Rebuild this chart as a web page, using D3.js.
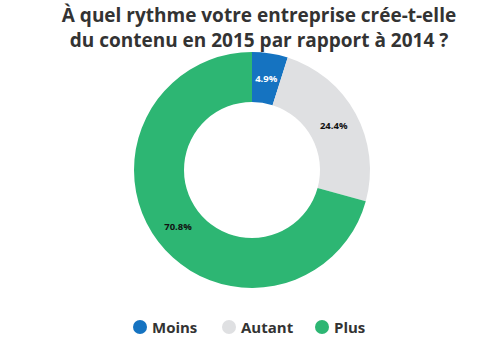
<!DOCTYPE html>
<meta charset="utf-8">
<html>
<head>
  <script src="https://d3js.org/d3.v7.min.js" charset="utf-8"></script>
</head>
<style>
body { margin: 0; background: white; }
* { font-family: "Open Sans", sans-serif; }
.title { text-anchor: middle; font-size: 19px; font-weight: bold; fill: #333; }
.label { text-anchor: middle; font-size: 9.5px; font-weight: bold; }
.legend text { font-size: 15px; font-weight: bold; fill: #333; }
</style>
<body>
<div id="container"></div>
<script>
var categories = ["Moins", "Autant", "Plus"]
var values = [4.9, 24.4, 70.8]
var colors = ["#1573c1", "#dfe0e2", "#2db673"]
var labelColors = ["white", "#111", "#111"]

var width = 502, height = 362
var cx = 252, cy = 170
var outerR = 118, innerR = 68

var svg = d3.select("#container").append("svg")
            .attr("width", width)
            .attr("height", height)

svg.append("text").attr("class", "title").attr("x", 259).attr("y", 22)
   .text("À quel rythme votre entreprise crée-t-elle")
svg.append("text").attr("class", "title").attr("x", 259).attr("y", 47)
   .text("du contenu en 2015 par rapport à 2014 ?")

var pie = d3.pie().sort(null).value(d => d)
var arc = d3.arc().innerRadius(innerR).outerRadius(outerR)
var labelArc = d3.arc().innerRadius(93).outerRadius(93)

var g = svg.append("g").attr("transform", "translate(" + cx + "," + cy + ")")

var arcs = pie(values)
g.selectAll("path")
 .data(arcs)
 .enter()
 .append("path")
 .attr("d", arc)
 .attr("fill", (d, i) => colors[i])

g.selectAll(".label")
 .data(arcs)
 .enter()
 .append("text")
 .attr("class", "label")
 .attr("x", d => labelArc.centroid(d)[0])
 .attr("y", d => labelArc.centroid(d)[1] + 3.5)
 .attr("fill", (d, i) => labelColors[i])
 .text(d => d.data.toFixed(1) + "%")

// legend
var legendX = [140, 229, 322]
var legend = svg.append("g").attr("class", "legend")
var items = legend.selectAll("g")
                  .data(categories)
                  .enter()
                  .append("g")
                  .attr("transform", (d, i) => "translate(" + legendX[i] + ",327)")
items.append("circle").attr("r", 7).attr("fill", (d, i) => colors[i])
items.append("text").attr("x", 12).attr("y", 5.5).text(d => d)
</script>
</body>
</html>
